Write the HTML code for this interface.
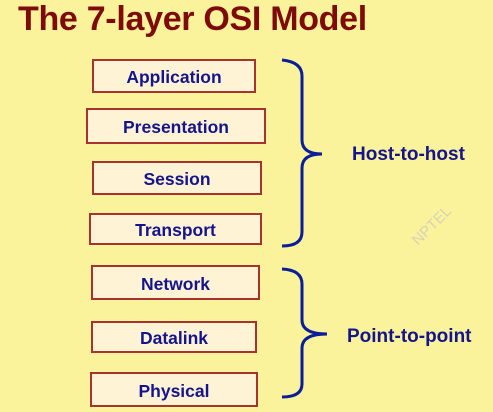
<!DOCTYPE html>
<html><head><style>
body{margin:0;width:493px;height:412px;background:#fbf39c;position:relative;overflow:hidden;font-family:"Liberation Sans",sans-serif;}
.t{position:absolute;left:18px;top:0px;font-size:34px;font-weight:bold;color:#7f0a0a;letter-spacing:-0.3px}
.b{position:absolute;box-sizing:border-box;border:2px solid #a6342c;background:#fff3d6;color:#14148c;font-weight:bold;font-size:17.5px;display:flex;align-items:center;justify-content:center;padding-top:3px}
.l{position:absolute;color:#14148c;font-weight:bold;font-size:19px}
</style></head><body>
<div class="t">The 7-layer OSI Model</div>
<div class="b" style="left:92px;top:59px;width:164px;height:34px">Application</div>
<div class="b" style="left:86px;top:108px;width:180px;height:36px">Presentation</div>
<div class="b" style="left:92px;top:161px;width:170px;height:34px">Session</div>
<div class="b" style="left:89px;top:213px;width:173px;height:32px">Transport</div>
<div class="b" style="left:91px;top:265px;width:169px;height:35px">Network</div>
<div class="b" style="left:91px;top:321px;width:166px;height:32px">Datalink</div>
<div class="b" style="left:90px;top:372px;width:168px;height:35px">Physical</div>
<svg width="493" height="412" style="position:absolute;left:0;top:0">
<g fill="none" stroke="#0a1e9a" stroke-width="3">
<path d="M282 60 Q302 62 302 76 L302 140 Q302 154 322 154 Q302 154 302 168 L302 232 Q302 246 282 246"/>
<path d="M282 269 Q302 270 302 284 L302 320 Q302 334 327 334 Q302 334 302 348 L302 384 Q302 397 282 397"/>
</g>
<text x="418" y="246" transform="rotate(-45 418 246)" font-family="Liberation Sans" font-size="15" fill="#d8d2b4">NPTEL</text>
</svg>
<div class="l" style="left:352px;top:144px">Host-to-host</div>
<div class="l" style="left:347px;top:326px">Point-to-point</div>
</body></html>
